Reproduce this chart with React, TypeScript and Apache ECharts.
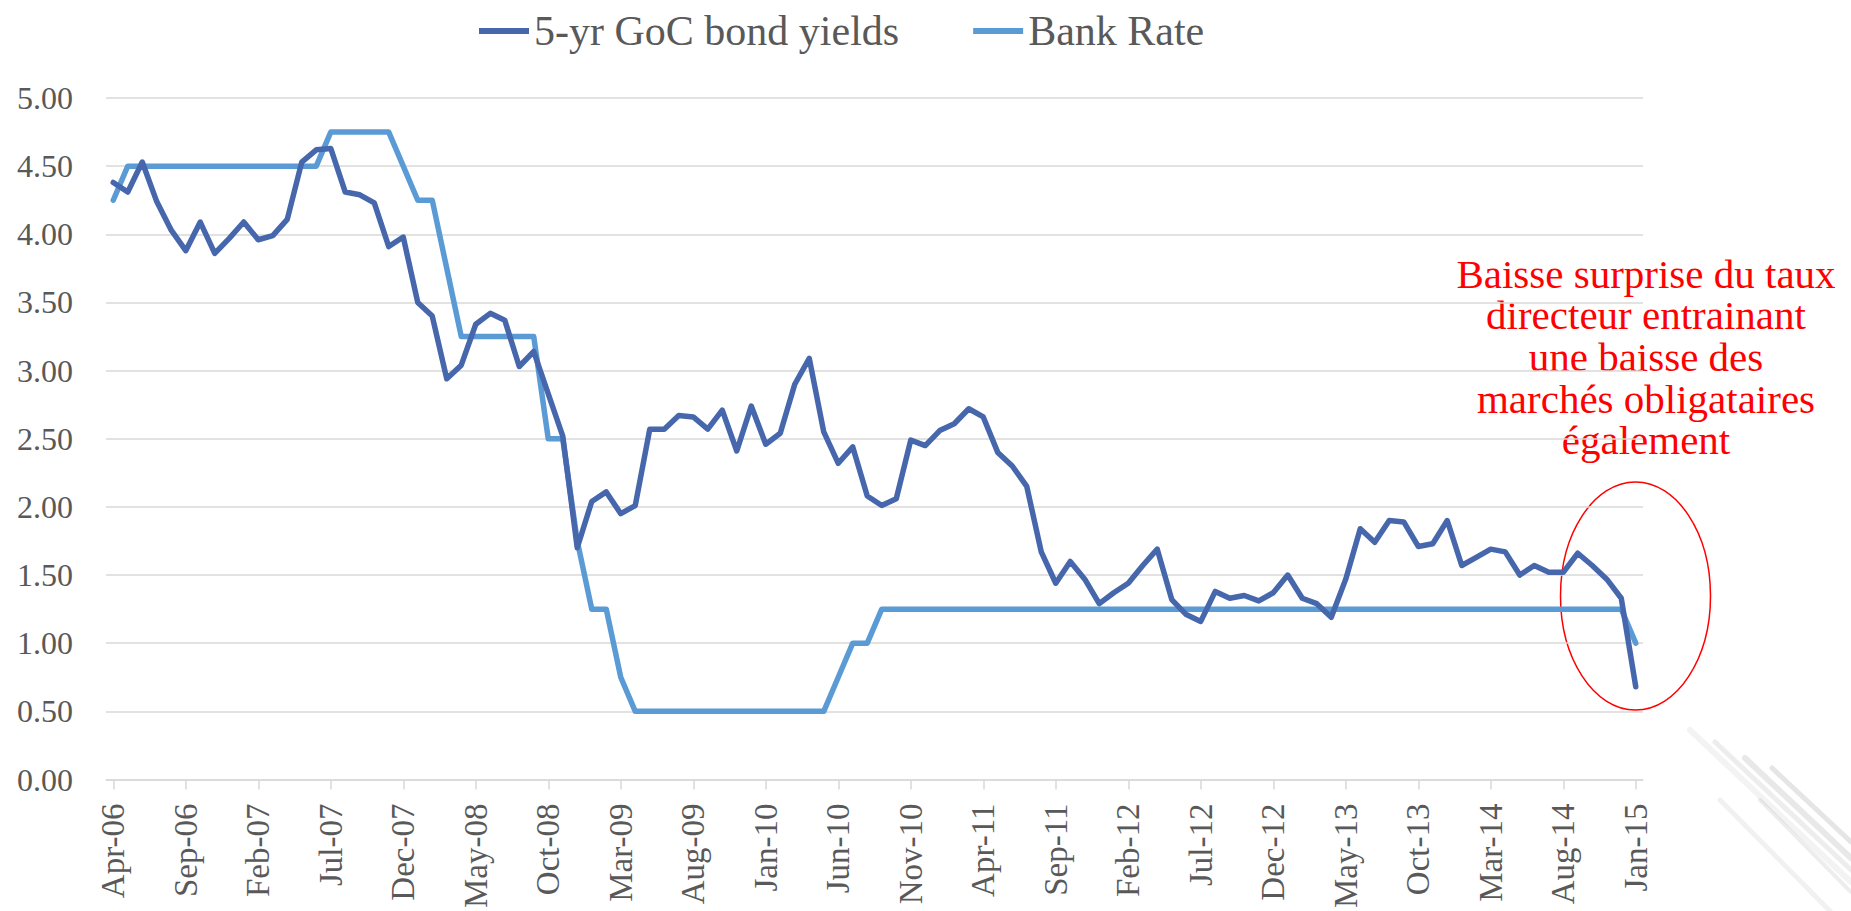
import React, { useEffect, useRef } from "react";
import * as echarts from "echarts";

const months = [
  "Apr-06", "May-06", "Jun-06", "Jul-06", "Aug-06", "Sep-06", "Oct-06", "Nov-06", "Dec-06",
  "Jan-07", "Feb-07", "Mar-07", "Apr-07", "May-07", "Jun-07", "Jul-07", "Aug-07", "Sep-07", "Oct-07", "Nov-07", "Dec-07",
  "Jan-08", "Feb-08", "Mar-08", "Apr-08", "May-08", "Jun-08", "Jul-08", "Aug-08", "Sep-08", "Oct-08", "Nov-08", "Dec-08",
  "Jan-09", "Feb-09", "Mar-09", "Apr-09", "May-09", "Jun-09", "Jul-09", "Aug-09", "Sep-09", "Oct-09", "Nov-09", "Dec-09",
  "Jan-10", "Feb-10", "Mar-10", "Apr-10", "May-10", "Jun-10", "Jul-10", "Aug-10", "Sep-10", "Oct-10", "Nov-10", "Dec-10",
  "Jan-11", "Feb-11", "Mar-11", "Apr-11", "May-11", "Jun-11", "Jul-11", "Aug-11", "Sep-11", "Oct-11", "Nov-11", "Dec-11",
  "Jan-12", "Feb-12", "Mar-12", "Apr-12", "May-12", "Jun-12", "Jul-12", "Aug-12", "Sep-12", "Oct-12", "Nov-12", "Dec-12",
  "Jan-13", "Feb-13", "Mar-13", "Apr-13", "May-13", "Jun-13", "Jul-13", "Aug-13", "Sep-13", "Oct-13", "Nov-13", "Dec-13",
  "Jan-14", "Feb-14", "Mar-14", "Apr-14", "May-14", "Jun-14", "Jul-14", "Aug-14", "Sep-14", "Oct-14", "Nov-14", "Dec-14",
  "Jan-15",
];

const bondYields = [
  4.38, 4.31, 4.53, 4.24, 4.03, 3.88, 4.09, 3.86, 3.97,
  4.09, 3.96, 3.99, 4.11, 4.53, 4.62, 4.63, 4.31, 4.29, 4.23, 3.91, 3.98,
  3.50, 3.40, 2.94, 3.04, 3.34, 3.42, 3.37, 3.03, 3.14, 2.83, 2.52, 1.70,
  2.04, 2.11, 1.95, 2.01, 2.57, 2.57, 2.67, 2.66, 2.57, 2.71, 2.41, 2.74,
  2.46, 2.54, 2.90, 3.09, 2.55, 2.32, 2.44, 2.08, 2.01, 2.06, 2.49, 2.45,
  2.56, 2.61, 2.72, 2.66, 2.40, 2.30, 2.15, 1.67, 1.44, 1.60, 1.47, 1.29,
  1.37, 1.44, 1.57, 1.69, 1.32, 1.21, 1.16, 1.38, 1.33, 1.35, 1.31, 1.37,
  1.50, 1.33, 1.29, 1.19, 1.47, 1.84, 1.74, 1.90, 1.89, 1.71, 1.73, 1.90,
  1.57, 1.63, 1.69, 1.67, 1.50, 1.57, 1.52, 1.52, 1.66, 1.57, 1.47, 1.33,
  0.68,
];

const bankRate = [
  4.25, 4.5, 4.5, 4.5, 4.5, 4.5, 4.5, 4.5, 4.5,
  4.5, 4.5, 4.5, 4.5, 4.5, 4.5, 4.75, 4.75, 4.75, 4.75, 4.75, 4.5,
  4.25, 4.25, 3.75, 3.25, 3.25, 3.25, 3.25, 3.25, 3.25, 2.5, 2.5, 1.75,
  1.25, 1.25, 0.75, 0.5, 0.5, 0.5, 0.5, 0.5, 0.5, 0.5, 0.5, 0.5,
  0.5, 0.5, 0.5, 0.5, 0.5, 0.75, 1.0, 1.0, 1.25, 1.25, 1.25, 1.25,
  1.25, 1.25, 1.25, 1.25, 1.25, 1.25, 1.25, 1.25, 1.25, 1.25, 1.25, 1.25,
  1.25, 1.25, 1.25, 1.25, 1.25, 1.25, 1.25, 1.25, 1.25, 1.25, 1.25, 1.25,
  1.25, 1.25, 1.25, 1.25, 1.25, 1.25, 1.25, 1.25, 1.25, 1.25, 1.25, 1.25,
  1.25, 1.25, 1.25, 1.25, 1.25, 1.25, 1.25, 1.25, 1.25, 1.25, 1.25, 1.25,
  1.0,
];

const seriesNames = ["5-yr GoC bond yields", "Bank Rate"];
const annotationLines = [
  "Baisse surprise du taux",
  "directeur entrainant",
  "une baisse des",
  "marchés obligataires",
  "également",
];

const FONT = "'Liberation Serif', 'DejaVu Serif', serif";

// faint decorative streaks of the slide background (bottom-right corner)
const streaks = [
  { x1: 1690, y1: 730, x2: 1851, y2: 882, w: 6, a: 0.07 },
  { x1: 1715, y1: 742, x2: 1851, y2: 870, w: 5, a: 0.1 },
  { x1: 1745, y1: 758, x2: 1851, y2: 858, w: 6, a: 0.13 },
  { x1: 1772, y1: 768, x2: 1851, y2: 842, w: 5, a: 0.15 },
  { x1: 1720, y1: 800, x2: 1830, y2: 911, w: 5, a: 0.08 },
  { x1: 1760, y1: 800, x2: 1851, y2: 892, w: 4, a: 0.1 },
];

export default function App() {
  const ref = useRef<HTMLDivElement>(null);

  useEffect(() => {
    const chart = echarts.init(ref.current!, null, { renderer: "svg" });
    chart.setOption({
      animation: false,
      backgroundColor: "#ffffff",
      textStyle: { fontFamily: FONT },
      grid: { left: 106, right: 208, top: 98, bottom: 131.5, containLabel: false },
      legend: {
        left: 474,
        top: 5,
        itemWidth: 50,
        itemHeight: 6,
        itemGap: 74,
        icon: "rect",
        textStyle: { fontSize: 42, color: "#595959", fontFamily: FONT },
        data: seriesNames,
      },
      xAxis: {
        type: "category",
        data: months,
        boundaryGap: true,
        axisLine: { show: true, lineStyle: { color: "#d9d9d9", width: 1.5 } },
        axisTick: {
          show: true,
          interval: 4,
          alignWithLabel: true,
          length: 10,
          lineStyle: { color: "#d9d9d9", width: 1.5 },
        },
        axisLabel: {
          interval: 4,
          rotate: 90,
          margin: 24,
          fontSize: 33,
          color: "#595959",
          fontFamily: FONT,
        },
        splitLine: { show: false },
      },
      yAxis: {
        type: "value",
        min: 0,
        max: 5,
        interval: 0.5,
        axisLine: { show: false },
        axisTick: { show: false },
        axisLabel: {
          fontSize: 32,
          color: "#595959",
          margin: 33,
          fontFamily: FONT,
          formatter: (v: number) => v.toFixed(2),
        },
        splitLine: { lineStyle: { color: "#d9d9d9", width: 1.5 } },
      },
      series: [
        {
          name: seriesNames[0],
          type: "line",
          data: bondYields,
          showSymbol: false,
          symbol: "none",
          lineStyle: { color: "#4767ad", width: 5.5, join: "round", cap: "round" },
          itemStyle: { color: "#4767ad" },
          z: 3,
        },
        {
          name: seriesNames[1],
          type: "line",
          data: bankRate,
          showSymbol: false,
          symbol: "none",
          lineStyle: { color: "#5b9bd5", width: 5.5, join: "round", cap: "round" },
          itemStyle: { color: "#5b9bd5" },
          z: 2,
        },
      ],
      graphic: [
        ...streaks.map((s) => ({
          type: "line",
          silent: true,
          z: -1,
          shape: { x1: s.x1, y1: s.y1, x2: s.x2, y2: s.y2 },
          style: { stroke: `rgba(80,80,80,${s.a})`, lineWidth: s.w, lineCap: "round" },
        })),
        {
          type: "text",
          x: 1646,
          y: 253,
          style: {
            text: annotationLines.join("\n"),
            fill: "#ff0000",
            font: `41px ${FONT}`,
            align: "center",
            verticalAlign: "top",
            lineHeight: 41.6,
          },
        },
        {
          type: "ellipse",
          shape: { cx: 1635.5, cy: 596, rx: 75, ry: 114 },
          style: { fill: "none", stroke: "#ff0000", lineWidth: 1.5 },
        },
      ],
    });
    return () => chart.dispose();
  }, []);

  return (
    <div
      ref={ref}
      style={{ position: "fixed", left: 0, top: 0, width: 1851, height: 911, background: "#fff" }}
    />
  );
}
